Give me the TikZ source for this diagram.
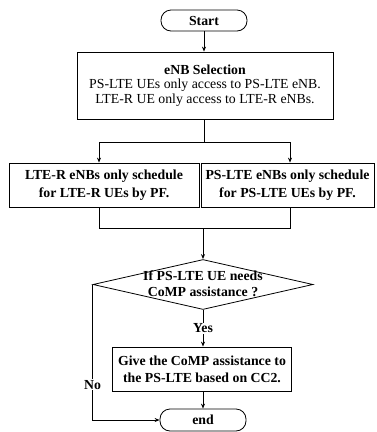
\documentclass[tikz,border=0pt]{standalone}
\usepackage{fontspec}
\setmainfont{Liberation Serif}
\usetikzlibrary{shapes.geometric,arrows.meta}
\begin{document}
\begin{tikzpicture}[x=1pt,y=-1pt,
  every node/.style={font=\fontsize{13.8}{17}\selectfont},
  line/.style={draw=black,line width=0.8pt},
  arr/.style={line,-{Stealth[length=5pt,width=4pt]}},
  box/.style={line,rectangle,align=center,inner sep=2pt},
  term/.style={line,rectangle,rounded corners=10pt,align=center,inner sep=1pt,font=\fontsize{13.8}{17}\selectfont\bfseries},
  decision/.style={line,diamond,inner sep=0pt,minimum width=220pt,minimum height=50pt},
  lbl/.style={fill=white,inner sep=1pt,font=\fontsize{13.8}{17}\selectfont\bfseries}]
\useasboundingbox (0,0) rectangle (376,432);

% terminals and process boxes
\node[term,minimum width=86pt,minimum height=21pt] (start) at (204,20.5) {Start};
\node[box,minimum width=256pt,minimum height=67pt,font=\fontsize{13.8}{14.5}\selectfont] (sel) at (205,85.5)
  {\textbf{eNB Selection}\\PS-LTE UEs only access to PS-LTE eNB.\\LTE-R UE only access to LTE-R eNBs.};
\node[box,minimum width=190pt,minimum height=44pt,font=\fontsize{13.8}{18}\selectfont\bfseries] (lbox) at (104,185)
  {LTE-R eNBs only schedule\\for LTE-R UEs by PF.};
\node[box,minimum width=173pt,minimum height=44pt,font=\fontsize{13.8}{18}\selectfont\bfseries] (rbox) at (287.5,185)
  {PS-LTE eNBs only schedule\\for PS-LTE UEs by PF.};
\node[decision] (dec) at (203,284.5) {};
\node[align=center,inner sep=0pt,font=\fontsize{13.8}{16}\selectfont\bfseries] (dtext) at (203,283.5)
  {If PS-LTE UE needs\\CoMP assistance ?};
\node[box,minimum width=179pt,minimum height=44pt,font=\fontsize{13.8}{17}\selectfont\bfseries] (give) at (202,369)
  {Give the CoMP assistance to\\the PS-LTE based on CC2.};
\node[term,minimum width=86pt,minimum height=22pt] (endn) at (203,420) {end};

% branch and merge points
\coordinate (split) at (204,142);
\coordinate (sl) at (99,142);
\coordinate (sr) at (290,142);
\coordinate (ml) at (99,228);
\coordinate (mr) at (290,228);
\coordinate (merge) at (203,228);

% connectors
\draw[arr] (start) -- (start |- sel.north);
\draw[line] (start |- sel.south) -- (split);
\draw[line] (sl) -- (sr);
\draw[arr] (sl) -- (sl |- lbox.north);
\draw[arr] (sr) -- (sr |- rbox.north);
\draw[line] (sl |- lbox.south) -- (ml) -- (mr) -- (sr |- rbox.south);
\draw[arr] (merge) -- (dec.north);
\draw[arr] (dec.south) -- (dec.south |- give.north) node[lbl,midway] {Yes};
\draw[arr] (give.south -| endn) -- (endn);
\draw[arr] (dec.west) |- (endn.west) node[lbl,pos=0.37] {No};
\end{tikzpicture}
\end{document}
